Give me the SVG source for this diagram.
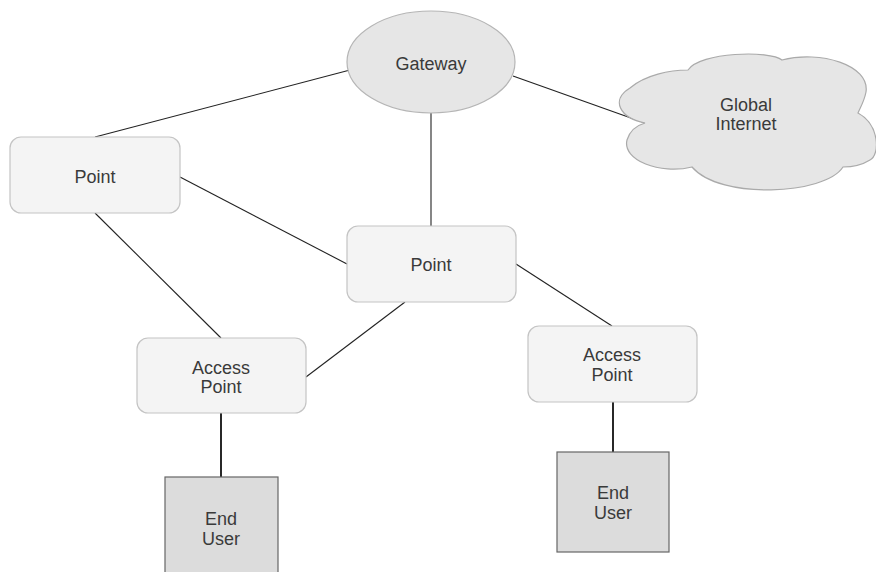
<svg xmlns="http://www.w3.org/2000/svg" width="876" height="572" viewBox="0 0 876 572">
<style>
.t{font-family:"Liberation Sans",Arial,sans-serif;font-size:18px;fill:#3a3a3a;text-anchor:middle;dominant-baseline:central}
.box{fill:#f4f4f4;stroke:#c4c4c4;stroke-width:1.2}
.eu{fill:#dcdcdc;stroke:#666;stroke-width:1.2}
.c{stroke:#222;stroke-width:1.1;fill:none}
.c2{stroke:#111;stroke-width:1.8;fill:none}
</style>
<rect width="876" height="572" fill="#fff"/>
<g id="connectors">
<line class="c" x1="95" y1="137" x2="350" y2="70"/>
<line class="c" x1="513" y1="76" x2="645" y2="123"/>
<line class="c" x1="431" y1="113" x2="431" y2="226"/>
<line class="c" x1="180" y1="177" x2="347" y2="264"/>
<line class="c" x1="95" y1="213" x2="221" y2="338"/>
<line class="c" x1="306" y1="377" x2="405" y2="302"/>
<line class="c" x1="516" y1="264" x2="612" y2="326"/>
<line class="c2" x1="221" y1="413" x2="221" y2="477"/>
<line class="c2" x1="613" y1="402" x2="613" y2="452"/>
</g>
<g id="gateway">
<ellipse cx="431" cy="62" rx="84" ry="51" fill="#e6e6e6" stroke="#b5b5b5" stroke-width="1.2"/>
<text class="t" x="431" y="64">Gateway</text>
</g>
<g id="internet">
<path d="M645,123 C620,118 610,100 630,88 C645,75 670,70 688,70 C700,52 770,50 782,60 C820,50 870,65 866,92 C864,102 860,108 858,113 C880,125 880,155 870,160 C862,165 852,167 843,167 C825,195 720,200 692,167 C660,175 622,160 627,140 C630,130 638,125 645,123 Z" fill="#e6e6e6" stroke="#aaa" stroke-width="1.2"/>
<text class="t" x="746" y="105">Global</text>
<text class="t" x="746" y="124">Internet</text>
</g>
<g id="point1">
<rect class="box" x="10" y="137" width="170" height="76" rx="11"/>
<text class="t" x="95" y="177">Point</text>
</g>
<g id="point2">
<rect class="box" x="347" y="226" width="169" height="76" rx="11"/>
<text class="t" x="431" y="265">Point</text>
</g>
<g id="ap1">
<rect class="box" x="137" y="338" width="169" height="75" rx="11"/>
<text class="t" x="221" y="368">Access</text>
<text class="t" x="221" y="387">Point</text>
</g>
<g id="ap2">
<rect class="box" x="528" y="326" width="169" height="76" rx="11"/>
<text class="t" x="612" y="355">Access</text>
<text class="t" x="612" y="375">Point</text>
</g>
<g id="enduser1">
<rect class="eu" x="165" y="477" width="113" height="110"/>
<text class="t" x="221" y="519">End</text>
<text class="t" x="221" y="539">User</text>
</g>
<g id="enduser2">
<rect class="eu" x="557" y="452" width="112" height="100"/>
<text class="t" x="613" y="493">End</text>
<text class="t" x="613" y="513">User</text>
</g>
</svg>
